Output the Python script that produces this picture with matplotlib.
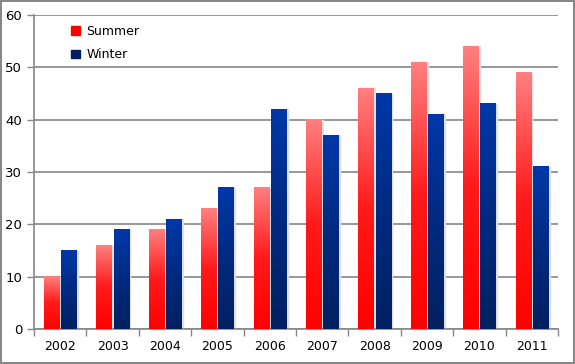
import numpy as np
import matplotlib.pyplot as plt
from matplotlib.colors import LinearSegmentedColormap
from matplotlib.patches import Rectangle

years = ['2002', '2003', '2004', '2005', '2006', '2007', '2008', '2009', '2010', '2011']
summer = [10, 16, 19, 23, 27, 40, 46, 51, 54, 49]
winter = [15, 19, 21, 27, 42, 37, 45, 41, 43, 31]

# gradient colour maps (bottom -> top)
red_cm = LinearSegmentedColormap.from_list('r', ['#ff0000', '#ff1a1a', '#ff8080'])
blue_cm = LinearSegmentedColormap.from_list('b', ['#002060', '#002a80', '#0038a8'])

fig = plt.figure(figsize=(5.75, 3.64), dpi=100)
fig.patch.set_edgecolor('#888888')
fig.patch.set_linewidth(1.5)
ax = fig.add_axes([34 / 575, 35 / 364, 524 / 575, 314 / 364])

x = np.arange(len(years))
w = 0.29
off = 0.165

def grad_bars(xs, vals, cmap):
    bars = ax.bar(xs, vals, w, color='none', edgecolor='none', zorder=3)
    grad = np.linspace(0, 1, 256).reshape(-1, 1)
    for b in bars:
        x0, h = b.get_x(), b.get_height()
        # soft shadow
        ax.add_patch(Rectangle((x0 + 0.03, 0), w, h, color='#e0e0e0', zorder=2))
        ax.imshow(grad, cmap=cmap, origin='lower', aspect='auto',
                  extent=(x0, x0 + w, 0, h), zorder=3)
    return bars

grad_bars(x - off, summer, red_cm)
grad_bars(x + off, winter, blue_cm)

ax.set_xlim(-0.5, len(years) - 0.5)
ax.set_ylim(0, 60)
ax.set_yticks(range(0, 61, 10))
ax.yaxis.grid(True, color='#868686', linewidth=1.2, zorder=0)
ax.set_axisbelow(True)
ax.set_xticks(x)
ax.set_xticklabels(years)
ax.set_xticks(np.arange(-0.5, len(years)), minor=True)
ax.tick_params(axis='x', which='major', length=0, pad=8, labelsize=9)
ax.tick_params(axis='x', which='minor', length=5, color='#868686', width=1)
ax.tick_params(axis='y', length=5, color='#868686', width=1, labelsize=9.5)
for s in ['top', 'right']:
    ax.spines[s].set_visible(False)
for s in ['left', 'bottom']:
    ax.spines[s].set_color('#868686')
    ax.spines[s].set_linewidth(1.2)

h1 = Rectangle((0, 0), 1, 1, color='#ff0000')
h2 = Rectangle((0, 0), 1, 1, color='#002060')
ax.legend([h1, h2], ['Summer', 'Winter'], loc='upper left', bbox_to_anchor=(0.05, 1.005),
          frameon=False, fontsize=9, handlelength=0.7, handleheight=0.7,
          labelspacing=0.85, handletextpad=0.5)

fig.savefig('out.png', dpi=100, edgecolor=fig.get_edgecolor())
